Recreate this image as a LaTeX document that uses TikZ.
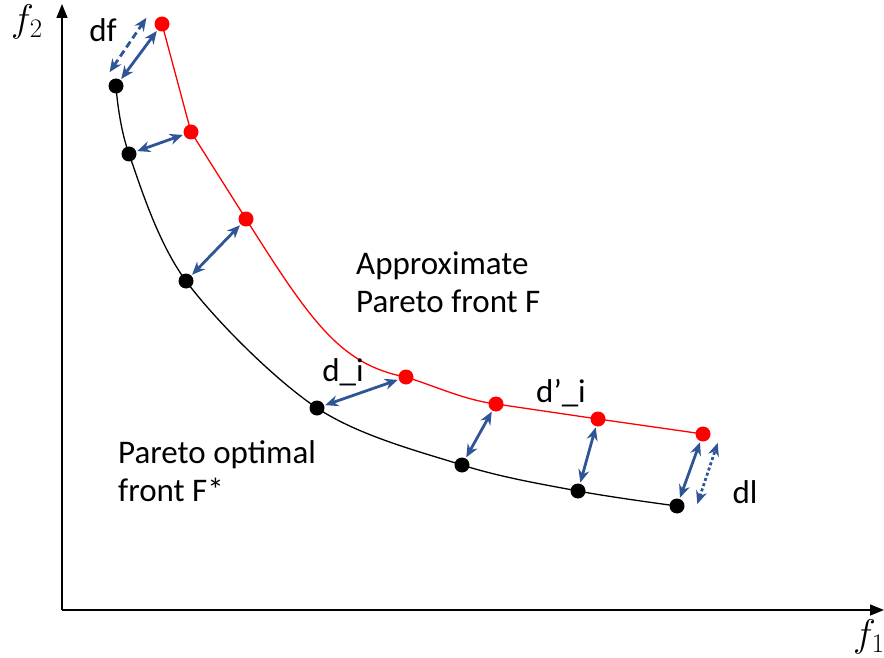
\documentclass[tikz,border=0pt]{standalone}
\usepackage{fontspec}
\setmainfont{Carlito}
\usepackage{tikz}
\usetikzlibrary{arrows.meta,positioning}

\definecolor{gapblue}{HTML}{2F5597}
\definecolor{frontred}{HTML}{FF0000}

\tikzset{
  bdot/.style={circle,fill=black,inner sep=0pt,minimum size=15pt},
  rdot/.style={circle,fill=frontred,inner sep=0pt,minimum size=15pt},
  gap/.style={gapblue,line width=2.8pt,{Stealth[length=13pt,width=11pt]}-{Stealth[length=13pt,width=11pt]},shorten <=1pt,shorten >=1pt},
  lbl/.style={font=\fontsize{33}{38}\selectfont,inner sep=0pt},
  axlbl/.style={font=\fontsize{24}{24}\selectfont,scale=1.55,inner sep=0pt},
}

\begin{document}
\begin{tikzpicture}[x=1pt,y=-1pt]
					\useasboundingbox (0,0) rectangle (884,658);
					% Axes
					\coordinate (o) at (62,610);
					\coordinate (ytop) at (62,4);
					\coordinate (xend) at (884,610);
					\draw[line width=1.5pt,-{Triangle[length=14pt,width=11pt]}] (o.center) -- (ytop);
					\draw[line width=1.5pt,-{Triangle[length=14pt,width=11pt]}] (o.center) -- (xend);
					\node[axlbl] (f2) at (27,22) {$f_2$};
					\node[axlbl] (f1) at (869,637) {$f_1$};

					% Points on both fronts
					\coordinate (b1) at (116,86);
					\coordinate (b2) at (129,154);
					\coordinate (b3) at (186,281);
					\coordinate (b4) at (317,408);
					\coordinate (b5) at (462,465);
					\coordinate (b6) at (578,491);
					\coordinate (b7) at (677,506);
					\coordinate (r1) at (162,24);
					\coordinate (r2) at (191,132);
					\coordinate (r3) at (246,219);
					\coordinate (r4) at (406,377);
					\coordinate (r5) at (496,404);
					\coordinate (r6) at (598,419);
					\coordinate (r7) at (703,434);

					% Fronts
					\draw[line width=1.3pt] plot[smooth,tension=0.55] coordinates {(b1) (b2) (b3) (b4) (b5) (b6) (b7)};
					\draw[frontred,line width=1.3pt] (r1) -- (r2) -- (r3) .. controls (310,320) and (340,365) .. (r4)
					  .. controls (440,388) and (465,400) .. (r5) -- (r6) -- (r7);

					\node[bdot] (pb1) at (b1) {};
					\node[bdot] (pb2) at (b2) {};
					\node[bdot] (pb3) at (b3) {};
					\node[bdot] (pb4) at (b4) {};
					\node[bdot] (pb5) at (b5) {};
					\node[bdot] (pb6) at (b6) {};
					\node[bdot] (pb7) at (b7) {};
					\node[rdot] (pr1) at (r1) {};
					\node[rdot] (pr2) at (r2) {};
					\node[rdot] (pr3) at (r3) {};
					\node[rdot] (pr4) at (r4) {};
					\node[rdot] (pr5) at (r5) {};
					\node[rdot] (pr6) at (r6) {};
					\node[rdot] (pr7) at (r7) {};

					% Distances
					\draw[gap] (pb1) -- (pr1);
					\draw[gap] (pb2) -- (pr2);
					\draw[gap] (pb3) -- (pr3);
					\draw[gap] (pb4) -- (pr4);
					\draw[gap] (pb5) -- (pr5);
					\draw[gap] (pb6) -- (pr6);
					\draw[gap] (pb7) -- (pr7);
					\coordinate (df1) at (109,73);
					\coordinate (df2) at (147,17);
					\coordinate (dl1) at (697,505);
					\coordinate (dl2) at (718,442);
					\draw[gap,dash pattern=on 7pt off 4pt] (df1) -- (df2);
					\draw[gap,dash pattern=on 3pt off 2.5pt] (dl1) -- (dl2);

					% Labels
					\node[lbl] (tdf) at (103,30) {df};
					\node[lbl] (tdi) at (343,372) {d\_i};
					\node[lbl] (tdpi) at (561,393) {d’\_i};
					\node[lbl] (tdl) at (745,492) {dl};
					\node[lbl,align=left,anchor=west] (tapp) at (356,282) {Approximate\\Pareto front F};
					\node[lbl,align=left,anchor=west] (topt) at (118,471) {Pareto optimal\\front F*};
				\end{tikzpicture}
\end{document}
